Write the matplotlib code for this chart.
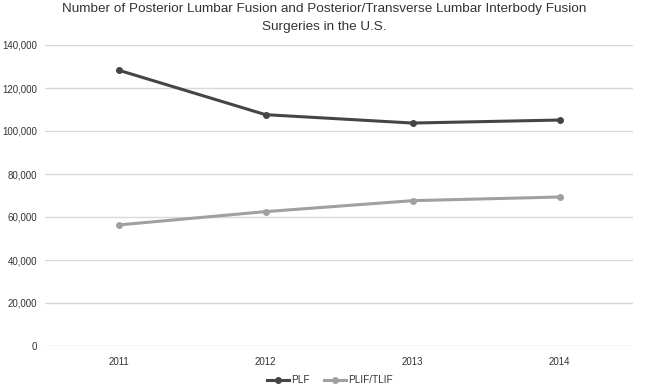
import matplotlib
matplotlib.use("Agg")
import matplotlib.pyplot as plt
from matplotlib.ticker import FuncFormatter

years = ["2011", "2012", "2013", "2014"]
plf = [128300, 107600, 103700, 105100]
plif_tlif = [56300, 62500, 67600, 69300]

plt.rcParams['font.family'] = ['Liberation Sans', 'DejaVu Sans']

fig = plt.figure(figsize=(6.48, 3.86), dpi=100)
ax = fig.add_axes([45/648, 1 - 346/386, (633 - 45)/648, (346 - 45)/386])

x = list(range(len(years)))
ax.plot(x, plf, color="#454545", lw=2.2, marker="o", ms=4, label="PLF")
ax.plot(x, plif_tlif, color="#a0a0a0", lw=2.2, marker="o", ms=4, label="PLIF/TLIF")

ax.set_xlim(-0.5, 3.5)
ax.set_ylim(0, 140000)
ax.set_yticks(range(0, 140001, 20000))
ax.yaxis.set_major_formatter(FuncFormatter(lambda v, p: f"{int(v):,}"))
ax.set_xticks(x)
ax.set_xticklabels(years)
ax.grid(axis="y", color="#d9d9d9", lw=1)
ax.set_axisbelow(True)
for s in ax.spines.values():
    s.set_visible(False)
ax.tick_params(length=0, labelsize=7, colors="#333333")
ax.tick_params(axis="y", pad=5.5)
ax.tick_params(axis="x", pad=8)

fig.text(0.5, 1 - 9/386, "Number of Posterior Lumbar Fusion and Posterior/Transverse Lumbar Interbody Fusion",
         ha="center", va="center", fontsize=9.7, color="#333333")
fig.text(0.5, 1 - 27/386, "Surgeries in the U.S.",
         ha="center", va="center", fontsize=9.7, color="#333333")

fig.legend(loc="center", bbox_to_anchor=(330/648, 1 - 380/386), ncol=2, frameon=False,
           fontsize=7.2, handlelength=2.2, columnspacing=1.5, handletextpad=0.2,
           labelcolor="#333333")

fig.savefig("out.png", dpi=100, facecolor="white")
